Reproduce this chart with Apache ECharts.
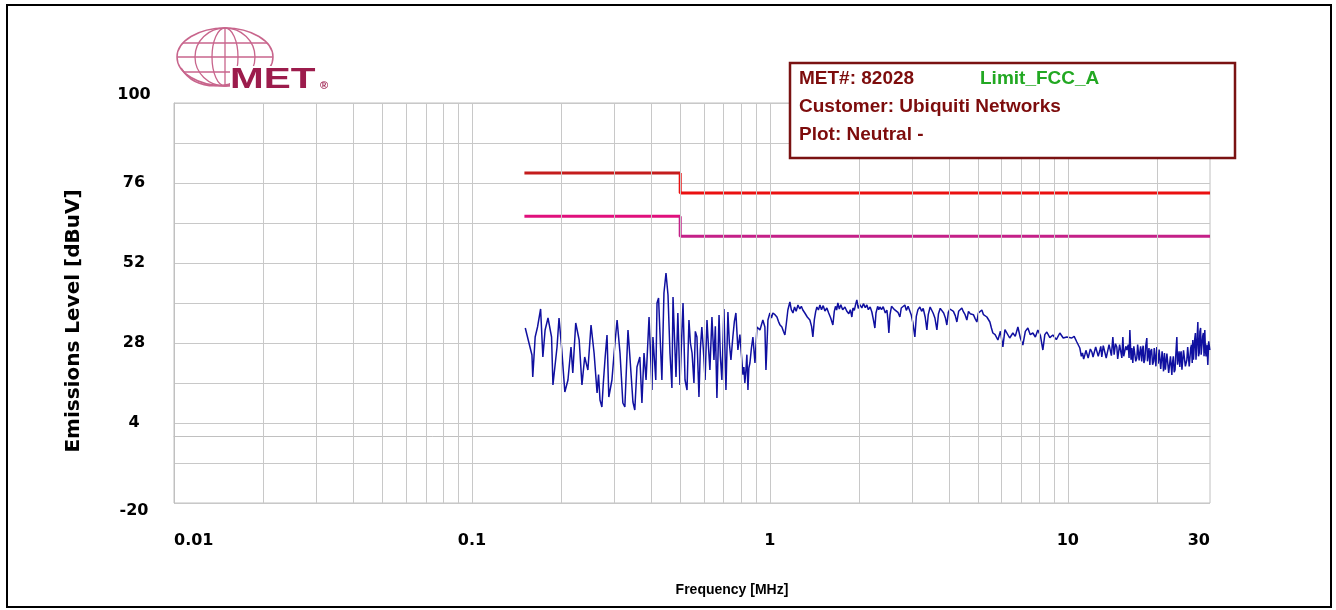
<!DOCTYPE html>
<html>
<head>
<meta charset="utf-8">
<script src="https://cdn.jsdelivr.net/npm/echarts@6/dist/echarts.min.js"></script>
<style>
  html, body { margin: 0; padding: 0; background: #fff; }
  #chart { width: 1336px; height: 610px; }
</style>
</head>
<body>
<div id="chart"></div>
<script>
// y ticks: grid every 12 dB, labels every 24 dB
const yLabels = [-20, 4, 28, 52, 76, 100];
const xLabels = [0.01, 0.1, 1, 10, 30];
// vertical grid lines (MHz)
const gridFreqs = [0.02, 0.03, 0.04, 0.05, 0.06, 0.07, 0.08, 0.09, 0.1,
  0.2, 0.3, 0.4, 0.5, 0.6, 0.7, 0.8, 0.9, 1,
  2, 3, 4, 5, 6, 7, 8, 9, 10, 20];

// FCC class A limits
const limitFreq = [0.15, 0.5, 0.5, 30];
const qpLimit = [79, 79, 73, 73];
const avgLimit = [66, 66, 60, 60];

// measured neutral trace, 0.15 - 1 MHz
const lowFreq = [
  0.151, 0.152, 0.159, 0.160, 0.163, 0.166, 0.170, 0.173, 0.176, 0.180,
  0.185, 0.187, 0.193, 0.196, 0.200, 0.205, 0.210, 0.215, 0.218, 0.223,
  0.229, 0.234, 0.239, 0.245, 0.251, 0.257, 0.263, 0.266, 0.269, 0.273,
  0.276, 0.280, 0.284, 0.288, 0.295, 0.302, 0.307, 0.314, 0.321, 0.326,
  0.334, 0.339, 0.347, 0.352, 0.358, 0.366, 0.372, 0.378, 0.384, 0.393,
  0.402, 0.405, 0.414, 0.418, 0.423, 0.428, 0.434, 0.441, 0.448, 0.455,
  0.462, 0.469, 0.473, 0.478, 0.484, 0.491, 0.499, 0.505, 0.511, 0.519,
  0.527, 0.535, 0.541, 0.548, 0.556, 0.562, 0.569, 0.578, 0.584, 0.591,
  0.600, 0.606, 0.615, 0.622, 0.629, 0.639, 0.649, 0.656, 0.664, 0.675,
  0.682, 0.690, 0.701, 0.712, 0.723, 0.731, 0.740, 0.751, 0.760, 0.769,
  0.781, 0.793, 0.805, 0.812, 0.818, 0.824, 0.831, 0.837, 0.844, 0.850,
  0.857, 0.867, 0.877, 0.891, 0.905, 0.926, 0.947, 0.962, 0.970, 0.985
];
const lowLevel = [
  32.5, 33.1, 24.4, 17.8, 29.8, 32.8, 38.2, 23.8, 31.9, 35.5,
  29.8, 15.4, 26.8, 35.5, 26.5, 13.3, 16.9, 26.8, 19.0, 34.0,
  28.9, 15.4, 23.8, 19.9, 33.4, 25.0, 13.0, 18.5, 10.9, 8.8,
  16.0, 23.8, 30.4, 11.8, 16.9, 28.0, 34.9, 25.0, 10.0, 8.8,
  31.9, 23.8, 10.3, 7.9, 20.8, 23.8, 10.0, 25.0, 16.9, 35.8,
  13.9, 29.8, 16.9, 40.0, 41.5, 30.0, 16.9, 43.0, 49.0, 42.4,
  25.0, 14.5, 41.8, 30.5, 17.8, 37.0, 15.4, 28.0, 40.0, 16.9,
  13.9, 34.9, 28.0, 25.0, 16.0, 31.5, 29.8, 11.8, 26.0, 32.8,
  24.0, 16.9, 34.9, 27.0, 19.9, 35.8, 22.9, 33.0, 11.5, 36.4,
  24.0, 16.9, 38.2, 13.9, 37.3, 28.0, 22.9, 29.8, 34.5, 37.0,
  25.9, 30.5, 22.9, 18.5, 20.8, 16.0, 19.9, 24.5, 13.9, 20.5,
  22.0, 26.5, 29.8, 22.0, 32.8, 31.9, 34.9, 32.8, 19.9, 34.9
];

// 1 - 10 MHz
const midFreq = [
  1.0, 1.012, 1.023, 1.04, 1.056, 1.068, 1.080, 1.097, 1.11, 1.123,
  1.136, 1.149, 1.167, 1.18, 1.195, 1.21, 1.225, 1.242, 1.26, 1.275,
  1.290, 1.31, 1.335, 1.362, 1.38, 1.394, 1.41, 1.425, 1.438, 1.455,
  1.472, 1.49, 1.51, 1.53, 1.553, 1.575, 1.60, 1.627, 1.645, 1.66,
  1.675, 1.691, 1.71, 1.73, 1.755, 1.786, 1.81, 1.84, 1.862, 1.884,
  1.90, 1.92, 1.94, 1.958, 1.98, 2.005, 2.035, 2.06, 2.09, 2.116,
  2.14, 2.17, 2.199, 2.225, 2.251, 2.27, 2.30, 2.32, 2.340, 2.37,
  2.40, 2.44, 2.470, 2.49, 2.508, 2.53, 2.56, 2.587, 2.62, 2.65,
  2.69, 2.731, 2.76, 2.80, 2.838, 2.87, 2.91, 2.950, 2.98, 3.02,
  3.066, 3.10, 3.14, 3.187, 3.23, 3.27, 3.32, 3.364, 3.40, 3.45,
  3.497, 3.53, 3.58, 3.635, 3.68, 3.73, 3.778, 3.83, 3.88, 3.926,
  3.97, 4.02, 4.080, 4.13, 4.19, 4.242, 4.30, 4.35, 4.408, 4.46,
  4.52, 4.582, 4.64, 4.70, 4.763, 4.82, 4.88, 4.950, 5.01, 5.08,
  5.145, 5.21, 5.28, 5.349, 5.475, 5.54, 5.603, 5.70, 5.824, 5.94,
  6.053, 6.15, 6.242, 6.38, 6.539, 6.66, 6.797, 6.93, 7.063, 7.2,
  7.342, 7.48, 7.631, 7.78, 7.930, 8.09, 8.245, 8.37, 8.500, 8.70,
  8.906, 9.15, 9.400, 9.65, 9.920
];
const midLevel = [
  37.0, 35.5, 37.0, 36.5, 35.8, 34.5, 33.5, 32.8, 31.5, 30.4,
  34.0, 37.9, 40.3, 38.0, 37.0, 38.8, 37.5, 39.4, 38.2, 39.0,
  37.9, 37.0, 35.8, 34.9, 33.0, 29.8, 35.0, 37.5, 38.8, 37.9,
  39.4, 38.0, 39.2, 37.6, 38.5, 37.0, 35.5, 33.4, 37.5, 39.0,
  37.9, 40.0, 38.2, 39.5, 38.0, 38.8, 37.6, 36.8, 38.0, 35.8,
  38.5, 37.8, 39.6, 40.9, 38.4, 39.5, 38.5, 39.8, 38.6, 39.4,
  38.0, 38.8, 37.3, 35.0, 32.5, 37.0, 39.0, 38.0, 38.8, 38.0,
  38.9, 37.0, 37.9, 35.0, 31.0, 36.5, 39.0, 38.8, 38.0, 38.6,
  37.2, 35.8, 38.5, 38.0, 39.4, 37.8, 39.0, 38.5, 36.5, 34.0,
  29.8, 36.0, 38.0, 38.8, 37.5, 38.4, 35.8, 31.9, 36.5, 38.8,
  38.5, 37.0, 35.5, 31.9, 36.8, 38.4, 37.9, 37.0, 35.6, 33.4,
  37.2, 38.2, 38.5, 37.5, 36.2, 34.3, 37.5, 37.0, 38.5, 37.4,
  36.5, 34.9, 37.5, 36.8, 37.3, 36.5, 35.4, 34.3, 37.0, 36.6,
  37.9, 36.5, 37.0, 35.8, 34.3, 32.5, 31.0, 30.5, 28.9, 31.5,
  26.8, 32.0, 31.9, 29.5, 31.0, 30.0, 32.8, 29.5, 27.4, 31.5,
  32.5, 30.5, 31.0, 29.8, 31.9, 30.2, 25.9, 30.5, 31.3, 29.6,
  30.4, 29.0, 31.0, 29.5, 29.8
];

// 10 - 30 MHz
const highFreq = [
  10.31, 10.5, 10.72, 10.97, 11.1, 11.2, 11.3, 11.40, 11.5, 11.6,
  11.7, 11.8, 11.9, 12.04, 12.15, 12.3, 12.4, 12.5, 12.65, 12.81,
  12.9, 13.0, 13.15, 13.31, 13.45, 13.6, 13.75, 13.9, 14.0, 14.16,
  14.3, 14.45, 14.6, 14.7, 14.8, 14.92, 15.05, 15.18, 15.30, 15.4,
  15.5, 15.65, 15.78, 15.95, 16.05, 16.15, 16.3, 16.4, 16.52, 16.65,
  16.8, 16.9, 17.04, 17.15, 17.25, 17.35, 17.44, 17.55, 17.7, 17.8,
  17.9, 18.0, 18.13, 18.25, 18.41, 18.5, 18.6, 18.72, 18.85, 18.95,
  19.1, 19.25, 19.4, 19.5, 19.65, 19.75, 19.89, 20.0, 20.1, 20.25,
  20.36, 20.5, 20.6, 20.72, 20.84, 20.95, 21.1, 21.25, 21.4, 21.5,
  21.66, 21.8, 21.9, 22.1, 22.34, 22.45, 22.6, 22.75, 22.9, 23.05,
  23.22, 23.35, 23.5, 23.62, 23.76, 23.88, 24.0, 24.15, 24.3, 24.45,
  24.6, 24.8, 25.08, 25.25, 25.4, 25.55, 25.7, 25.85, 26.0, 26.15,
  26.27, 26.4, 26.5, 26.65, 26.8, 26.92, 27.05, 27.18, 27.31, 27.45,
  27.6, 27.75, 27.9, 28.02, 28.17, 28.35, 28.5, 28.65, 28.82, 28.95,
  29.1, 29.3, 29.5, 29.7, 29.96
];
const highLevel = [
  29.5, 30.0, 28.3, 26.5, 24.0, 25.0, 23.2, 24.4, 25.8, 26.0,
  23.5, 24.0, 26.2, 25.3, 23.8, 23.5, 26.8, 26.2, 24.0, 25.9,
  27.0, 23.8, 27.2, 26.8, 23.5, 24.0, 27.5, 27.0, 24.2, 29.8,
  24.5, 27.8, 26.8, 23.2, 23.5, 27.5, 27.2, 23.5, 29.8, 24.0,
  23.8, 27.0, 25.9, 27.5, 23.5, 31.9, 23.0, 26.5, 22.0, 27.0,
  26.5, 22.5, 23.5, 27.5, 27.0, 22.8, 25.0, 27.0, 22.5, 26.0,
  27.2, 22.0, 23.0, 27.0, 29.5, 22.5, 22.8, 26.5, 21.4, 25.5,
  26.2, 21.5, 22.5, 26.5, 26.8, 21.0, 26.8, 24.0, 21.8, 26.0,
  25.5, 20.2, 20.5, 25.5, 22.9, 19.5, 25.0, 20.0, 19.8, 24.8,
  24.5, 19.0, 19.5, 24.0, 18.4, 22.0, 24.0, 19.2, 20.0, 25.0,
  29.8, 21.5, 21.0, 25.5, 20.8, 24.5, 25.5, 20.0, 20.5, 25.8,
  26.0, 21.0, 22.9, 26.8, 26.5, 21.0, 21.5, 26.5, 27.5, 22.0,
  28.9, 23.0, 22.5, 29.0, 31.0, 23.0, 23.5, 30.0, 34.3, 24.0,
  25.0, 31.5, 32.5, 24.5, 25.0, 30.0, 31.0, 24.0, 31.9, 26.0,
  24.0, 27.5, 21.4, 28.5, 25.9
];

function pairs(xs, ys) {
  return xs.map((x, i) => [x, ys[i]]);
}

const traceData = pairs(lowFreq, lowLevel)
  .concat(pairs(midFreq, midLevel))
  .concat(pairs(highFreq, highLevel));

const chart = echarts.init(document.getElementById('chart'));

const boldFont = "'DejaVu Sans', sans-serif";
const boxFont = "'Liberation Sans', Arial, sans-serif";
const logoPink = '#c8658c';
const boxRed = '#7d0c0c';

function boxText(x, y, text, color) {
  return {
    type: 'text', x: x, y: y, z: 101,
    style: { text: text, fill: color, fontSize: 19, fontWeight: 'bold',
      fontFamily: boxFont, verticalAlign: 'middle' }
  };
}

const option = {
  animation: false,
  backgroundColor: '#ffffff',
  grid: {
    left: 174, right: 126, top: 103, bottom: 107,
    show: true, borderColor: '#c0c0c0', borderWidth: 1
  },
  xAxis: {
    type: 'log',
    logBase: 10,
    min: 0.01,
    max: 30,
    name: 'Frequency [MHz]',
    nameLocation: 'middle',
    nameGap: 80,
    nameTextStyle: {
      fontFamily: "'Liberation Sans Narrow', 'Liberation Sans', sans-serif",
      fontWeight: 'bold', fontSize: 14, color: '#000', padding: [0, 0, 0, 80]
    },
    axisLine: { lineStyle: { color: '#c0c0c0' } },
    axisTick: { show: false },
    splitLine: { show: false },
    axisLabel: {
      customValues: xLabels,
      margin: 30,
      fontFamily: boldFont, fontWeight: 'bold', fontSize: 16, color: '#000',
      alignMinLabel: 'left', alignMaxLabel: 'right',
      formatter: v => {
        const m = xLabels.find(t => Math.abs(Math.log10(t) - Math.log10(v)) < 0.01);
        return m !== undefined ? String(m) : '';
      }
    }
  },
  yAxis: {
    type: 'value',
    min: -20,
    max: 100,
    interval: 12,
    name: 'Emissions Level [dBuV]',
    nameLocation: 'middle',
    nameGap: 90,
    nameTextStyle: {
      fontFamily: boldFont, fontWeight: 'bold', fontSize: 20, color: '#000',
      padding: [0, 36, 0, 0]
    },
    axisLine: { show: true, lineStyle: { color: '#c0c0c0' } },
    axisTick: { show: false },
    splitLine: { lineStyle: { color: '#c8c8c8', width: 1 } },
    axisLabel: {
      margin: 40,
      align: 'center',
      verticalAlignMinLabel: 'top',
      verticalAlignMaxLabel: 'bottom',
      fontFamily: boldFont, fontWeight: 'bold', fontSize: 16, color: '#000',
      formatter: v => (yLabels.indexOf(v) >= 0 ? String(v) : '')
    }
  },
  series: [
    {
      // vertical log grid
      type: 'line',
      data: [],
      z: 1,
      markLine: {
        silent: true,
        symbol: ['none', 'none'],
        label: { show: false },
        lineStyle: { color: '#c8c8c8', width: 1, type: 'solid' },
        data: gridFreqs.map(f => ({ xAxis: f }))
      }
    },
    {
      type: 'line', z: 3, showSymbol: false,
      data: pairs(limitFreq.slice(0, 2), qpLimit.slice(0, 2)),
      lineStyle: { color: '#c41c1c', width: 3 }
    },
    {
      type: 'line', z: 3, showSymbol: false,
      data: pairs(limitFreq.slice(1), qpLimit.slice(1)),
      lineStyle: { color: '#ea1010', width: 3 }
    },
    {
      type: 'line', z: 3, showSymbol: false,
      data: pairs(limitFreq.slice(0, 2), avgLimit.slice(0, 2)),
      lineStyle: { color: '#e0107c', width: 3 }
    },
    {
      type: 'line', z: 3, showSymbol: false,
      data: pairs(limitFreq.slice(1), avgLimit.slice(1)),
      lineStyle: { color: '#c42088', width: 3 }
    },
    {
      type: 'line', z: 4, showSymbol: false,
      data: traceData,
      lineStyle: { color: '#1010a0', width: 1.5 }
    }
  ],
  graphic: [
    {
      type: 'rect', z: 200, silent: true,
      shape: { x: 7, y: 5, width: 1324, height: 602 },
      style: { fill: 'none', stroke: '#000', lineWidth: 2 }
    },
    // MET logo
    {
      type: 'group', silent: true,
      children: [
        { type: 'ellipse', z: 100, shape: { cx: 225, cy: 57, rx: 48, ry: 29 },
          style: { fill: 'none', stroke: logoPink, lineWidth: 1.5 } },
        { type: 'ellipse', z: 100, shape: { cx: 225, cy: 57, rx: 30, ry: 29 },
          style: { fill: 'none', stroke: logoPink, lineWidth: 1.3 } },
        { type: 'ellipse', z: 100, shape: { cx: 225, cy: 57, rx: 13, ry: 29 },
          style: { fill: 'none', stroke: logoPink, lineWidth: 1.3 } },
        { type: 'line', z: 100, shape: { x1: 225, y1: 28, x2: 225, y2: 86 },
          style: { stroke: logoPink, lineWidth: 1.3 } },
        { type: 'line', z: 100, shape: { x1: 183, y1: 43, x2: 267, y2: 43 },
          style: { stroke: logoPink, lineWidth: 1.3 } },
        { type: 'line', z: 100, shape: { x1: 177, y1: 57, x2: 273, y2: 57 },
          style: { stroke: logoPink, lineWidth: 1.3 } },
        { type: 'line', z: 100, shape: { x1: 184, y1: 72, x2: 266, y2: 72 },
          style: { stroke: logoPink, lineWidth: 1.3 } },
        { type: 'bezierCurve', z: 100,
          shape: { x1: 181, y1: 68, cpx1: 192, cpy1: 86, cpx2: 212, cpy2: 88, x2: 231, y2: 84 },
          style: { fill: 'none', stroke: logoPink, lineWidth: 1.5 } },
        { type: 'rect', z: 101, shape: { x: 230, y: 66, width: 92, height: 27 },
          style: { fill: '#fff' } },
        { type: 'text', z: 102, x: 230, y: 95, scaleX: 1.35,
          style: { text: 'MET', fill: '#9c1c4c', fontSize: 30, fontWeight: 'bold',
            fontFamily: boxFont, verticalAlign: 'bottom' } },
        { type: 'text', z: 102, x: 320, y: 86,
          style: { text: '®', fill: '#9c1c4c', fontSize: 11, fontWeight: 'bold',
            fontFamily: boxFont, verticalAlign: 'middle' } }
      ]
    },
    // info box
    {
      type: 'group', silent: true,
      children: [
        { type: 'rect', z: 100, shape: { x: 790, y: 63, width: 445, height: 95 },
          style: { fill: '#fff', stroke: '#7a1212', lineWidth: 2.5 } },
        boxText(799, 79, 'MET#: 82028', boxRed),
        boxText(980, 79, 'Limit_FCC_A', '#22a822'),
        boxText(799, 107, 'Customer: Ubiquiti Networks', boxRed),
        boxText(799, 135, 'Plot: Neutral -', boxRed)
      ]
    }
  ]
};

chart.setOption(option);
</script>
</body>
</html>
